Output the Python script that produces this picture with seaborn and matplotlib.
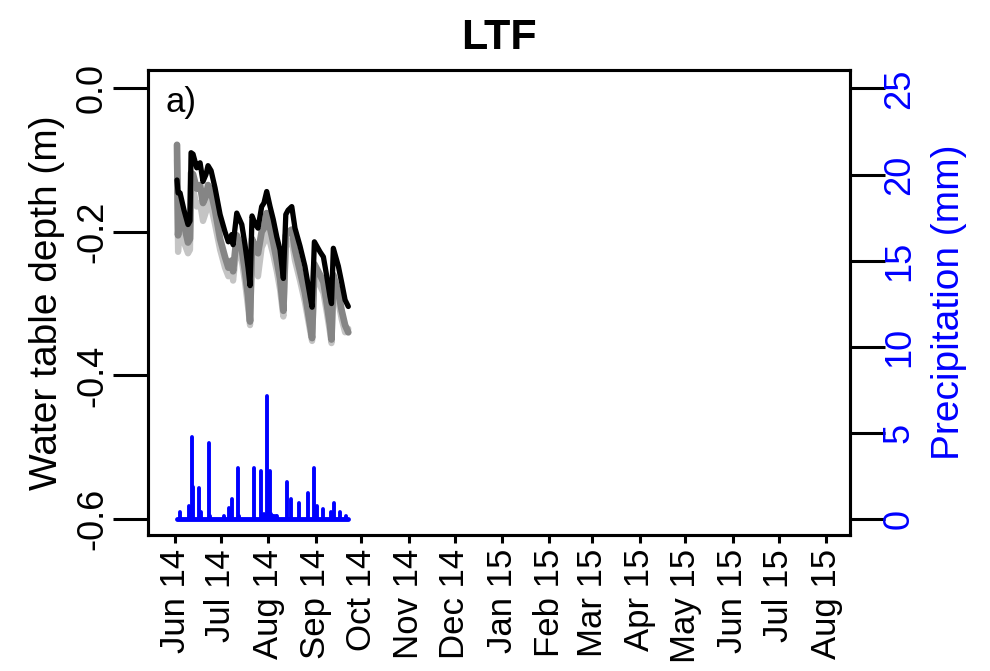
import numpy as np
import pandas as pd
import matplotlib
matplotlib.use("Agg")
import matplotlib.pyplot as plt
import seaborn as sns

# ---- data -------------------------------------------------------------
start = pd.Timestamp("2014-06-01")

# days after 1 June 2014 at which the logger series are sampled
wt_days = [1.3, 2.0, 3.3, 5.9, 8.5, 9.8, 10.5, 11.8, 14.2, 16.4, 18.3, 20.3, 21.6,
           23.6, 26.2, 29.5, 32.7, 34.9, 37.1, 38.0, 40.4, 43.7, 45.8, 47.8, 49.1,
           50.4, 52.2, 54.3, 56.7, 58.2, 60.0, 62.2, 64.3, 66.6, 68.7, 70.9, 72.5,
           74.0, 76.4, 78.5, 81.8, 85.0, 88.4, 89.7, 91.2, 94.9, 97.1, 99.3, 101.4,
           102.4, 103.6, 106.9, 109.1, 111.3, 113.4]

well_black = [-0.128, -0.146, -0.146, -0.170, -0.190, -0.185, -0.090, -0.092, -0.111,
              -0.104, -0.130, -0.120, -0.108, -0.115, -0.139, -0.176, -0.200, -0.214,
              -0.204, -0.218, -0.174, -0.190, -0.218, -0.250, -0.275, -0.178, -0.188,
              -0.195, -0.165, -0.160, -0.144, -0.165, -0.183, -0.207, -0.225, -0.265,
              -0.176, -0.170, -0.165, -0.195, -0.220, -0.248, -0.290, -0.305, -0.214,
              -0.228, -0.235, -0.262, -0.290, -0.300, -0.223, -0.248, -0.271, -0.295,
              -0.304]

well_dark = [-0.079, -0.205, -0.160, -0.190, -0.215, -0.210, -0.118, -0.120, -0.140,
             -0.135, -0.160, -0.150, -0.135, -0.145, -0.170, -0.210, -0.235, -0.250,
             -0.240, -0.255, -0.205, -0.225, -0.255, -0.290, -0.325, -0.210, -0.220,
             -0.230, -0.200, -0.195, -0.174, -0.195, -0.215, -0.240, -0.265, -0.310,
             -0.205, -0.200, -0.197, -0.225, -0.255, -0.285, -0.330, -0.348, -0.245,
             -0.260, -0.270, -0.300, -0.330, -0.350, -0.260, -0.285, -0.310, -0.330,
             -0.340]

well_light = [-0.100, -0.228, -0.185, -0.215, -0.230, -0.225, -0.135, -0.140, -0.165,
              -0.160, -0.185, -0.172, -0.155, -0.165, -0.190, -0.225, -0.250, -0.262,
              -0.255, -0.268, -0.222, -0.240, -0.270, -0.305, -0.330, -0.228, -0.240,
              -0.262, -0.222, -0.215, -0.200, -0.215, -0.232, -0.255, -0.280, -0.318,
              -0.222, -0.215, -0.212, -0.240, -0.268, -0.298, -0.338, -0.352, -0.262,
              -0.275, -0.285, -0.312, -0.340, -0.355, -0.275, -0.298, -0.322, -0.340,
              -0.335]

# daily precipitation record (mm), days 1..113 after 1 June 2014
rain_day = [3, 9, 11, 12, 16, 17, 22, 23, 32, 35, 37, 41, 42, 52, 56, 58, 60, 62, 63,
            64, 65, 66, 67, 73, 76, 81, 87, 91, 93, 97, 102, 104, 108, 112]
rain_mm = [0.4, 0.8, 4.8, 1.9, 1.8, 0.4, 4.45, 0.2, 0.2, 0.65, 1.2, 3.0, 0.2, 3.0,
           2.83, 0.3, 7.17, 2.83, 0.3, 0.2, 0.2, 0.2, 0.2, 2.17, 1.2, 0.97, 1.55, 3.0,
           0.8, 0.62, 0.4, 0.97, 0.4, 0.2]
precip_first_day, precip_last_day = 1, 113

month_ticks = pd.date_range("2014-06-01", "2015-08-01", freq="MS")

# ---- frames -----------------------------------------------------------
wt_dates = start + pd.to_timedelta(wt_days, unit="D")
wells = pd.concat([
    pd.DataFrame({"date": wt_dates, "depth": well_light, "well": "light"}),
    pd.DataFrame({"date": wt_dates, "depth": well_dark, "well": "dark"}),
    pd.DataFrame({"date": wt_dates, "depth": well_black, "well": "black"}),
], ignore_index=True)

all_days = np.arange(precip_first_day, precip_last_day + 1)
precip = pd.Series(0.0, index=all_days)
precip.loc[rain_day] = rain_mm
precip_dates = start + pd.to_timedelta(all_days, unit="D")

# ---- style ------------------------------------------------------------
sns.set_style("ticks")
plt.rcParams["font.family"] = ["Liberation Sans", "DejaVu Sans"]
plt.rcParams.update({"text.color": "black", "axes.labelcolor": "black",
                     "xtick.color": "black", "ytick.color": "black",
                     "axes.edgecolor": "black"})
FS_X = 25      # month labels
FS_Y = 26      # y tick labels
FS_LAB = 28    # axis titles
LW = 2.2
BLUE = "#0000ff"

fig = plt.figure(figsize=(9.9, 6.71), dpi=100)
ax = fig.add_axes([0.149, 0.2027, 0.7096, 0.6934])

styles = {"light": ("#c4c4c4", 4.5), "dark": ("#858585", 4.8), "black": ("#000000", 3.8)}
for name in ["light", "dark", "black"]:
    color, lw = styles[name]
    sns.lineplot(data=wells[wells["well"] == name], x="date", y="depth",
                 color=color, linewidth=lw, estimator=None, sort=True, ax=ax,
                 legend=False)

ax.set_xlim(pd.Timestamp("2014-05-14"), pd.Timestamp("2015-08-16 17:00"))
ax.set_ylim(-0.622, 0.0255)
ax.set_yticks([0.0, -0.2, -0.4, -0.6])
ax.set_yticklabels(["0.0", "-0.2", "-0.4", "-0.6"], rotation=90, va="center")
ax.set_xticks(month_ticks)
ax.set_xticklabels([d.strftime("%b %y") for d in month_ticks], rotation=90,
                   ha="center", va="top")
ax.tick_params(axis="y", length=25, width=LW, labelsize=FS_Y, pad=2, color="black",
               labelcolor="black")
ax.tick_params(axis="x", length=6, width=LW, labelsize=FS_X, pad=4, color="black",
               labelcolor="black")
ax.set_xlabel("")
ax.set_ylabel("Water table depth (m)", fontsize=FS_LAB, labelpad=7)
for s in ax.spines.values():
    s.set_linewidth(LW)
    s.set_color("black")
    s.set_visible(True)

ax.set_title("LTF", fontsize=31, fontweight="bold", pad=15)
ax.text(0.025, 0.965, "a)", transform=ax.transAxes, ha="left", va="top", fontsize=25)

# precipitation on the secondary axis
ax2 = ax.twinx()
ax2.plot(precip_dates, np.zeros(len(precip_dates)), color=BLUE, linewidth=3.5,
         solid_capstyle="round")
ax2.vlines(precip_dates, 0, precip.values, color=BLUE, linewidth=2.8,
           capstyle="round")
ax2.set_ylim(-0.91, 26.08)
ax2.set_yticks([0, 5, 10, 15, 20, 25])
ax2.set_yticklabels(["0", "5", "10", "15", "20", "25"], rotation=90, va="center")
ax2.tick_params(axis="y", length=25, width=LW, labelsize=FS_Y, pad=-2, color="black",
                labelcolor=BLUE)
ax2.set_ylabel("Precipitation (mm)", fontsize=FS_LAB, color=BLUE, labelpad=10)
for s in ax2.spines.values():
    s.set_linewidth(LW)
    s.set_color("black")
ax2.set_xlim(ax.get_xlim())

fig.savefig("out.png", dpi=100)
